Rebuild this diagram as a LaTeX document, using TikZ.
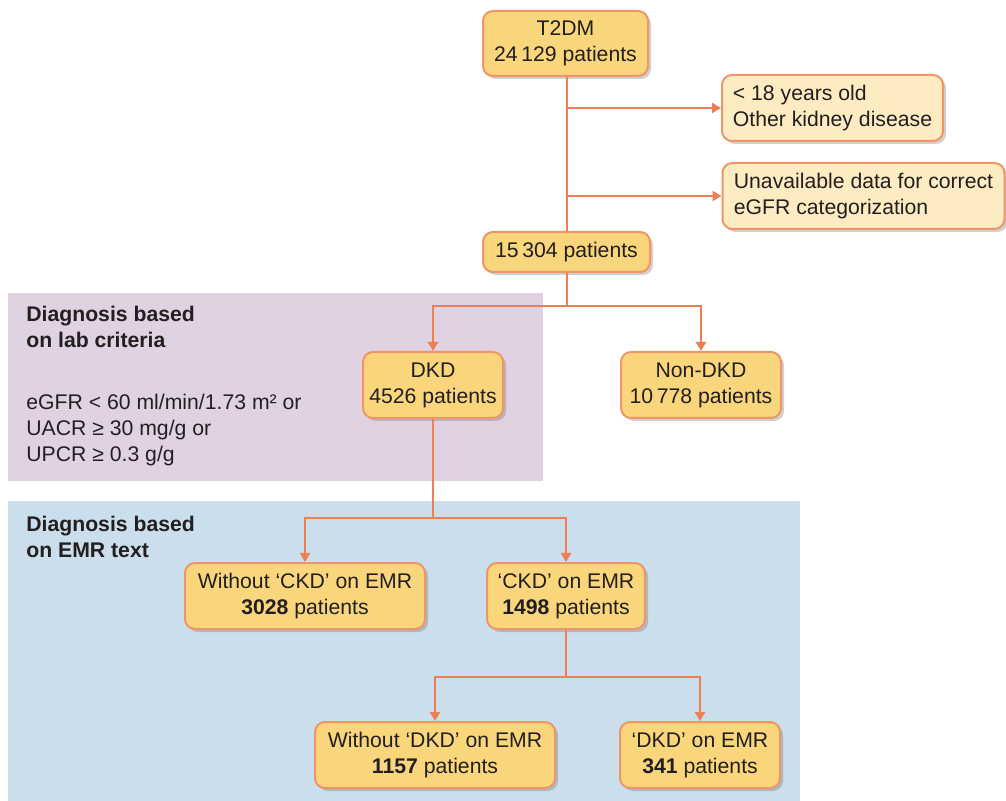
\documentclass[tikz,border=0pt]{standalone}
\usepackage{fontspec}
\setmainfont{Liberation Sans}
\usetikzlibrary{arrows.meta,shadows}
\definecolor{boxfill}{HTML}{F9D67B}
\definecolor{exfill}{HTML}{FDEBC2}
\definecolor{boxline}{HTML}{F19466}
\definecolor{conn}{HTML}{EE7F50}
\definecolor{purplebg}{HTML}{E0D2E0}
\definecolor{bluebg}{HTML}{CADEEB}
\definecolor{txt}{HTML}{231F20}
\tikzset{
  box/.style={draw=boxline, line width=1pt, fill=boxfill, rounded corners=5pt,
    align=center, inner sep=0pt, text=txt,
    font=\fontsize{10.6}{13}\selectfont,
    drop shadow={shadow xshift=1.5pt, shadow yshift=-1.5pt, opacity=0.3, fill=black!60}},
  exbox/.style={box, fill=exfill, align=left},
  conn/.style={draw=conn, line width=1.2pt},
  arr/.style={conn, -{Triangle[width=5pt,length=4.5pt]}},
  lbl/.style={anchor=west, align=left, inner sep=0pt, text=txt, font=\fontsize{10.6}{13}\selectfont},
}
\begin{document}
\begin{tikzpicture}[x=0.5pt,y=-0.5pt]
\useasboundingbox (0,0) rectangle (1006,801);
\fill[white] (0,0) rectangle (1006,801);
\fill[purplebg] (8,293) rectangle (543,481);
\fill[bluebg] (8,501) rectangle (800,801);

\node[lbl, font=\fontsize{10.6}{13}\selectfont\bfseries] (lab) at (26,327) {Diagnosis based\\on lab criteria};
\node[lbl] (crit) at (26,430) {eGFR < 60 ml/min/1.73 m² or\\UACR ≥ 30 mg/g or\\UPCR ≥ 0.3 g/g};
\node[lbl, font=\fontsize{10.6}{13}\selectfont\bfseries] (emr) at (26,537) {Diagnosis based\\on EMR text};

\node[box, minimum width=82.5pt, minimum height=32.5pt] (t2dm) at (565.5,43.5) {T2DM\\24\,129 patients};
\node[exbox, minimum width=110.5pt, minimum height=33pt] (ex1) at (832.5,108) {< 18 years old\\Other kidney disease};
\node[exbox, minimum width=141pt, minimum height=33pt] (ex2) at (863.5,196) {Unavailable data for correct\\eGFR categorization};
\node[box, minimum width=83.5pt, minimum height=20pt] (p15) at (566.5,252) {15\,304 patients};
\node[box, minimum width=70pt, minimum height=33pt] (dkd) at (433,385) {DKD\\4526 patients};
\node[box, minimum width=80pt, minimum height=33pt] (ndkd) at (701,385) {Non-DKD\\10\,778 patients};
\node[box, minimum width=120pt, minimum height=33pt] (wckd) at (305,596) {Without ‘CKD’ on EMR\\\textbf{3028} patients};
\node[box, minimum width=79pt, minimum height=33pt] (ckd) at (566,596) {‘CKD’ on EMR\\\textbf{1498} patients};
\node[box, minimum width=120pt, minimum height=33pt] (wdkd) at (435,755) {Without ‘DKD’ on EMR\\\textbf{1157} patients};
\node[box, minimum width=80pt, minimum height=33pt] (edkd) at (700,755) {‘DKD’ on EMR\\\textbf{341} patients};

\coordinate (j1) at (567,108);
\coordinate (j2) at (567,196);
\coordinate (j3) at (567,306);
\coordinate (j4) at (433,518);
\coordinate (j5) at (566,677);

\draw[conn] (t2dm.south -| j1) -- (p15.north -| j1);
\draw[arr] (j1) -- (ex1.west);
\draw[arr] (j2) -- (ex2.west);
\draw[conn] (p15.south -| j3) -- (j3);
\draw[arr] (j3) -| (dkd.north);
\draw[arr] (j3) -| (ndkd.north);
\draw[conn] (dkd.south) -- (j4);
\draw[arr] (j4) -| (wckd.north);
\draw[arr] (j4) -| (ckd.north);
\draw[conn] (ckd.south) -- (j5);
\draw[arr] (j5) -| (wdkd.north);
\draw[arr] (j5) -| (edkd.north);
\end{tikzpicture}
\end{document}
